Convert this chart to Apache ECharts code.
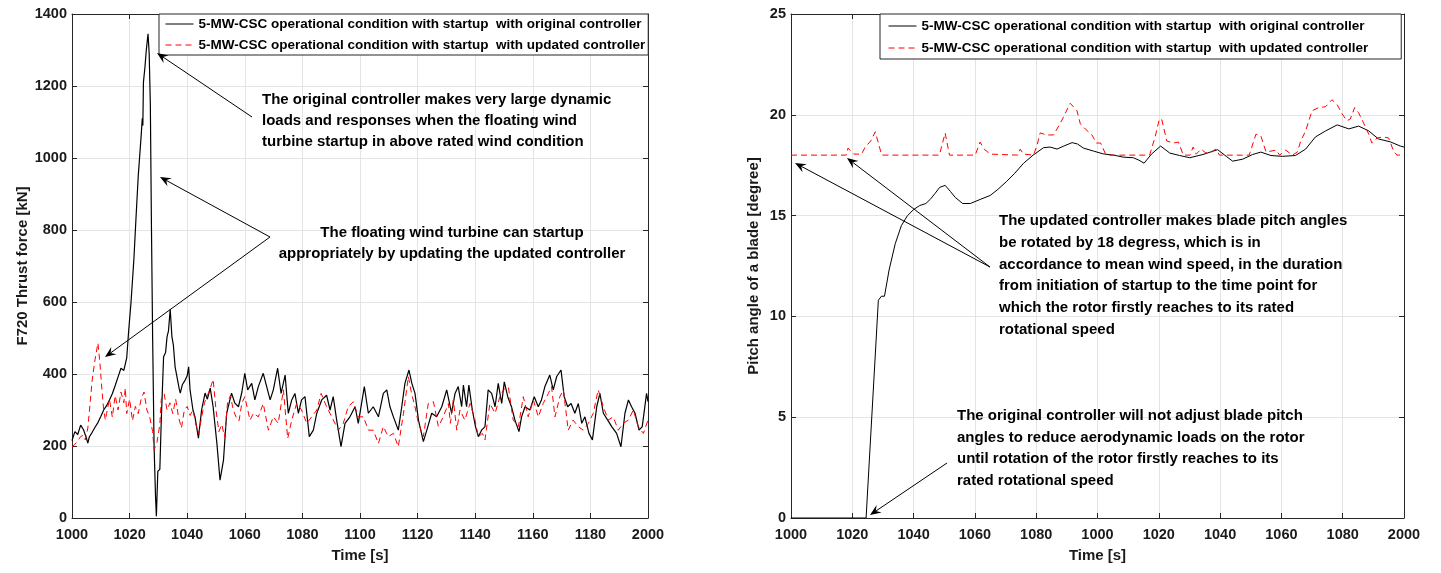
<!DOCTYPE html>
<html><head><meta charset="utf-8">
<script src="https://cdn.jsdelivr.net/npm/echarts@6/dist/echarts.min.js"></script>
<style>html,body{margin:0;padding:0;background:#fff}#c{width:1441px;height:573px}</style>
</head><body><div id="c"></div>
<script>
// ---------- tick labels ----------
const xTickLabelsLeft = ['1000','1020','1040','1060','1080','1100','1120','1140','1160','1180','2000'];
const xTickLabelsRight = ['1000','1020','1040','1060','1080','1000','1020','1040','1060','1080','2000'];
const yTickLabelsLeft = ['0','200','400','600','800','1000','1200','1400'];
const yTickLabelsRight = ['0','5','10','15','20','25'];

// ---------- series names ----------
const nameOriginal = '5-MW-CSC operational condition with startup  with original controller';
const nameUpdated = '5-MW-CSC operational condition with startup  with updated controller';

// ---------- left: F720 thrust force [kN] ----------
const thrustOriginal = [[1000,215],[1001,240],[1002,232],[1003,258],[1004,245],[1005,222],[1005.5,208],[1006,225],[1007,238],[1008,252],[1009,265],[1010,282],[1011,300],[1012,312],[1013,328],[1014,345],[1015,368],[1016,392],[1017,416],[1018,410],[1019,445],[1019.7,522],[1020.5,600],[1021.5,720],[1022.2,830],[1023,950],[1024,1060],[1024.4,1110],[1024.6,1090],[1024.8,1210],[1025.3,1250],[1025.8,1300],[1026.4,1345],[1026.8,1290],[1027.2,1150],[1027.6,800],[1028,500],[1028.5,200],[1029,60],[1029.3,5],[1029.8,130],[1030.5,135],[1031,272],[1031.8,448],[1032.5,460],[1033,503],[1033.5,520],[1034.1,580],[1034.7,503],[1035.2,480],[1035.8,420],[1036.5,390],[1037.2,360],[1037.6,347],[1038.3,370],[1039.3,383],[1040,395],[1040.5,420],[1041,355],[1042,300],[1042.7,281],[1043.9,222],[1045,300],[1046.2,347],[1047,330],[1048,361],[1049,309],[1050.3,208],[1051.4,105],[1052.6,161],[1053.7,291],[1055.4,347],[1056.5,320],[1057.8,309],[1059,350],[1060,402],[1061,356],[1062.4,374],[1063.5,328],[1064.7,365],[1066.4,402],[1067.6,365],[1068.8,328],[1069.9,356],[1071.4,416],[1072.6,346],[1074,397],[1075.1,291],[1076.3,328],[1077.4,346],[1078.6,291],[1079.7,328],[1080.9,337],[1082.4,226],[1083.8,244],[1085,291],[1086.7,328],[1088.4,341],[1089.6,300],[1090.7,337],[1091.9,272],[1093.4,198],[1094.8,263],[1096.5,281],[1098.3,309],[1099.4,263],[1101.5,365],[1102.9,291],[1104.6,309],[1106.4,281],[1108.1,346],[1109.3,356],[1110.4,309],[1111.6,281],[1113.3,244],[1114.5,309],[1115.6,374],[1117,411],[1118,374],[1119.1,346],[1120.3,272],[1122,212],[1123.2,244],[1124.9,291],[1126.6,281],[1128.4,309],[1130.1,356],[1131.8,291],[1133,346],[1134.1,365],[1135.3,309],[1135.9,369],[1137,309],[1137.8,369],[1139,300],[1140.1,254],[1141.1,226],[1142.2,244],[1143.4,254],[1144.5,356],[1145.7,346],[1146.9,309],[1148,374],[1149.2,318],[1150.1,378],[1151.3,337],[1152.6,309],[1153.8,272],[1155.2,240],[1156.1,281],[1157.3,309],[1159,300],[1160.5,337],[1161.9,309],[1163,328],[1164.2,365],[1165.9,397],[1167.1,356],[1168.3,393],[1169.8,411],[1170.9,337],[1172.1,309],[1173.3,318],[1174.6,291],[1175.8,318],[1177,263],[1178.1,281],[1179.5,235],[1180.7,217],[1182.2,309],[1183.3,346],[1184.5,291],[1186,272],[1187.4,254],[1189.1,235],[1190.6,198],[1192,291],[1193.2,328],[1194.3,309],[1195.5,291],[1196.9,244],[1198,254],[1199.5,346],[1200,323]];
const thrustUpdated = [[1000,198],[1001,205],[1002,215],[1003,226],[1004,230],[1004.6,217],[1005.5,250],[1006.3,320],[1007,383],[1008,440],[1009,486],[1009.7,430],[1010.4,355],[1011,300],[1011.6,272],[1012,290],[1013,330],[1014,280],[1015,340],[1016,300],[1017,350],[1018,320],[1018.5,361],[1019,290],[1020,330],[1021,270],[1022,310],[1023,290],[1024,330],[1025,350],[1026,300],[1027,280],[1028,240],[1028.5,190],[1029.5,210],[1030.5,260],[1031,330],[1032,345],[1033,300],[1034,320],[1035,290],[1036,330],[1037,280],[1038,250],[1039,300],[1040,310],[1041,285],[1042,300],[1043,260],[1044,235],[1045,280],[1046,320],[1047,340],[1048,360],[1049,385],[1050,300],[1051,240],[1052,260],[1053,225],[1054,320],[1055,340],[1056,300],[1057,280],[1058,270],[1059,320],[1060,337],[1061.8,272],[1063,291],[1064.7,281],[1066.4,318],[1068.2,244],[1069.9,281],[1071.6,263],[1073.4,356],[1074.9,221],[1076.3,272],[1078,318],[1079.7,300],[1081.5,263],[1083.2,281],[1085,300],[1086.5,346],[1088.4,309],[1090.2,281],[1092.5,244],[1094.2,263],[1095.9,309],[1097.7,323],[1099.4,281],[1101.2,281],[1102.9,244],[1104.6,244],[1106.4,207],[1108.1,254],[1109.8,226],[1111.6,235],[1113.3,198],[1115.1,291],[1116.8,393],[1117.9,346],[1119.1,309],[1120.3,263],[1122,226],[1123.7,318],[1125.5,323],[1127.2,254],[1128.9,281],[1130.7,318],[1131.4,263],[1132.4,328],[1133.6,244],[1134.7,300],[1136.4,272],[1138.2,318],[1139.7,281],[1141.1,226],[1142.5,235],[1143.4,217],[1145.1,318],[1146.9,291],[1148.6,337],[1149.8,356],[1151.5,365],[1153.2,272],[1155,254],[1156.7,337],[1158.4,281],[1160.2,328],[1161.9,281],[1163.6,318],[1165.4,346],[1166.5,365],[1167.7,281],[1169.4,337],[1170.6,356],[1172.3,244],[1174,272],[1175.8,254],[1177.5,244],[1179.3,263],[1181,291],[1182.7,356],[1184.5,309],[1186.2,272],[1187.9,281],[1189.7,244],[1191.4,263],[1193.2,272],[1194.9,300],[1196.6,254],[1198.4,235],[1200,272]];

// ---------- right: pitch angle of a blade [degree] ----------
const pitchOriginal = [[1000,0],[1024.5,0],[1028.5,10.8],[1029.5,11.0],[1030.5,11.0],[1032,12.3],[1034,13.6],[1036,14.5],[1038,15.0],[1040,15.3],[1042,15.5],[1044,15.6],[1045.4,15.8],[1047,16.1],[1048.5,16.4],[1050.3,16.5],[1052,16.2],[1053.6,15.9],[1056,15.6],[1058.5,15.6],[1061.7,15.8],[1065,16.0],[1067.5,16.3],[1070.4,16.7],[1073,17.1],[1075.9,17.6],[1079,18.0],[1082.4,18.37],[1084.5,18.4],[1086.8,18.3],[1089,18.45],[1091.7,18.62],[1093.5,18.55],[1095.4,18.35],[1098.7,18.2],[1101.9,18.06],[1105.2,18.0],[1108.4,17.9],[1111.7,17.87],[1113.5,17.75],[1115.2,17.6],[1117.6,18.05],[1120.6,18.45],[1123.6,18.1],[1126.8,17.98],[1130.1,17.87],[1134.4,18.03],[1139.2,18.27],[1142,17.94],[1144.1,17.7],[1147.4,17.8],[1150.6,18.03],[1153.3,18.15],[1156.6,17.98],[1160.3,17.94],[1164.6,17.98],[1167.9,18.3],[1171.1,18.9],[1174.4,19.2],[1178.2,19.5],[1182,19.3],[1185.2,19.44],[1188.5,19.2],[1191.7,18.8],[1195.5,18.66],[1198.8,18.45],[1200,18.4]];
const pitchUpdated = [[1000,18],[1018,18],[1018.6,18.35],[1019.5,18.2],[1020.5,18.05],[1023,18.05],[1024.2,18.4],[1026,18.7],[1027.5,19.16],[1028.5,18.6],[1029.6,18],[1048.4,18],[1050.3,19.1],[1051.7,18],[1060.1,18],[1061.7,18.65],[1063,18.3],[1065,18.05],[1074,18],[1074.8,18.3],[1075.8,18.05],[1079.1,18],[1080.3,18.5],[1081.3,19.1],[1083.5,19.0],[1085.7,19.0],[1088.4,19.74],[1091.1,20.57],[1093.3,20.2],[1094.4,19.55],[1096,19.3],[1098.2,19.0],[1099.6,18.6],[1101,18.6],[1102.5,18.1],[1103.5,18],[1117,18],[1118.8,18.9],[1120.2,19.8],[1121,19.75],[1122.6,18.7],[1124.8,18.6],[1126.4,18.65],[1128,18.0],[1130.2,18.0],[1131.2,18.4],[1132.2,18.05],[1133.8,18.3],[1135.4,18.1],[1137,18.15],[1138.7,18.3],[1139.8,18.0],[1149.5,18.0],[1151.7,19.04],[1153.3,18.95],[1155,18.15],[1156.6,18.2],[1158.3,18.25],[1159.4,18.0],[1161.4,18.25],[1163.6,18.0],[1165.2,18.15],[1166.3,18.7],[1167.9,19.2],[1170,20.2],[1172.2,20.36],[1174.4,20.4],[1176.5,20.75],[1178.2,20.5],[1179.8,20.05],[1181.4,19.7],[1182.5,19.8],[1183.9,20.36],[1185.2,20.1],[1186.8,19.6],[1188.5,19.04],[1189.5,18.6],[1191.2,18.85],[1193.3,18.9],[1195,18.85],[1196.6,18.2],[1197.7,18.0],[1200,18.0]];

// ---------- annotation texts ----------
const noteLeft1 = ['The original controller makes very large dynamic','loads and responses when the floating wind','turbine startup in above rated wind condition'];
const noteLeft2 = ['The floating wind turbine can startup','appropriately by updating the updated controller'];
const noteRight1 = ['The updated controller makes blade pitch angles','be rotated by 18 degress, which is in','accordance to mean wind speed, in the duration','from initiation of startup to the time point for','which the rotor firstly reaches to its rated','rotational speed'];
const noteRight2 = ['The original controller will not adjust blade pitch','angles to reduce aerodynamic loads on the rotor','until rotation of the rotor firstly reaches to its','rated rotational speed'];

const FONT = '"Liberation Sans", Arial, Helvetica, sans-serif';
const AX = '#262626';
const GRIDC = '#e4e4e4';

function bottomX(gi, labels) {
  return {
    type: 'value', gridIndex: gi, position: 'bottom', min: 1000, max: 1200, interval: 20,
    axisLine: { show: true, onZero: false, lineStyle: { color: AX, width: 1 } },
    axisTick: { show: true, inside: true, length: 5, lineStyle: { color: AX } },
    axisLabel: { formatter: v => labels[Math.round((v - 1000) / 20)], fontFamily: FONT, fontWeight: 'bold',
      fontSize: 14.5, color: '#1a1a1a', margin: 9, showMinLabel: true, showMaxLabel: true },
    splitLine: { show: true, lineStyle: { color: GRIDC, width: 1 } },
    name: 'Time [s]', nameLocation: 'middle', nameGap: 30,
    nameTextStyle: { fontFamily: FONT, fontWeight: 'bold', fontSize: 15, color: '#1a1a1a' }
  };
}
function topX(gi) {
  return {
    type: 'value', gridIndex: gi, position: 'top', min: 1000, max: 1200, interval: 20,
    axisLine: { show: true, onZero: false, lineStyle: { color: AX, width: 1 } },
    axisTick: { show: true, inside: true, length: 5, lineStyle: { color: AX } },
    axisLabel: { show: false }, splitLine: { show: false }
  };
}
function leftY(gi, max, step, labels, name, gap) {
  return {
    type: 'value', gridIndex: gi, position: 'left', min: 0, max: max, interval: step,
    axisLine: { show: true, onZero: false, lineStyle: { color: AX, width: 1 } },
    axisTick: { show: true, inside: true, length: 5, lineStyle: { color: AX } },
    axisLabel: { formatter: v => labels[Math.round(v / step)], fontFamily: FONT, fontWeight: 'bold',
      fontSize: 14.5, color: '#1a1a1a', margin: 5, showMinLabel: true, showMaxLabel: true },
    splitLine: { show: true, lineStyle: { color: GRIDC, width: 1 } },
    name: name, nameLocation: 'middle', nameGap: gap,
    nameTextStyle: { fontFamily: FONT, fontWeight: 'bold', fontSize: 15, color: '#1a1a1a' }
  };
}
function rightY(gi, max, step) {
  return {
    type: 'value', gridIndex: gi, position: 'right', min: 0, max: max, interval: step,
    axisLine: { show: true, onZero: false, lineStyle: { color: AX, width: 1 } },
    axisTick: { show: true, inside: true, length: 5, lineStyle: { color: AX } },
    axisLabel: { show: false }, splitLine: { show: false }
  };
}

function arrow(x1, y1, x2, y2) {
  const a = Math.atan2(y2 - y1, x2 - x1);
  const L = 11, W = 4.5, back = 7;
  const p = (d, w) => [x2 - d * Math.cos(a) - w * Math.sin(a), y2 - d * Math.sin(a) + w * Math.cos(a)];
  const b = p(back, 0);
  return [
    { type: 'line', shape: { x1: x1, y1: y1, x2: b[0], y2: b[1] }, style: { stroke: '#000', lineWidth: 1 }, z: 100 },
    { type: 'polygon', shape: { points: [[x2, y2], p(L, W), b, p(L, -W)] }, style: { fill: '#000' }, z: 100 }
  ];
}
function note(lines, x, y, lh, align) {
  return { type: 'text', x: x, y: y, z: 100,
    style: { text: lines.join('\n'), font: 'bold 15px ' + FONT, fill: '#000', lineHeight: lh,
      align: align || 'left', verticalAlign: 'top' } };
}

const legendBase = {
  data: [nameOriginal, nameUpdated], orient: 'vertical', itemWidth: 28, itemHeight: 14,
  backgroundColor: '#fff', borderColor: AX, borderWidth: 1, borderRadius: 0,
  textStyle: { fontFamily: FONT, fontWeight: 'bold', fontSize: 13.5, color: '#000' },
  itemStyle: { opacity: 0, borderWidth: 0 },
  lineStyle: { width: 1 },
  selectedMode: false
};

const chart = echarts.init(document.getElementById('c'), null, { renderer: 'canvas' });
chart.setOption({
  animation: false,
  backgroundColor: '#fff',
  grid: [
    { left: 72, top: 14, width: 576, height: 504, containLabel: false },
    { left: 791, top: 14, width: 613, height: 504, containLabel: false }
  ],
  xAxis: [bottomX(0, xTickLabelsLeft), topX(0), bottomX(1, xTickLabelsRight), topX(1)],
  yAxis: [
    leftY(0, 1400, 200, yTickLabelsLeft, 'F720 Thrust force [kN]', 40), rightY(0, 1400, 200),
    leftY(1, 25, 5, yTickLabelsRight, 'Pitch angle of a blade [degree]', 30), rightY(1, 25, 5)
  ],
  legend: [
    Object.assign({}, legendBase, { left: 159, top: 14, padding: [3, 3, 3, 6], itemGap: 7 }),
    Object.assign({}, legendBase, { left: 880, top: 14, padding: [5, 33, 4, 8], itemGap: 8 })
  ],
  series: [
    { name: nameOriginal, type: 'line', xAxisIndex: 0, yAxisIndex: 0, data: thrustOriginal, showSymbol: false, symbol: 'none',
      lineStyle: { color: '#000', width: 1.2 }, itemStyle: { color: '#000' }, z: 2 },
    { name: nameUpdated, type: 'line', xAxisIndex: 0, yAxisIndex: 0, data: thrustUpdated, showSymbol: false, symbol: 'none',
      lineStyle: { color: '#ff0000', width: 1, type: [6, 4] }, itemStyle: { color: '#ff0000' }, z: 3 },
    { name: nameOriginal, type: 'line', xAxisIndex: 2, yAxisIndex: 2, data: pitchOriginal, showSymbol: false, symbol: 'none',
      lineStyle: { color: '#000', width: 1 }, itemStyle: { color: '#000' }, z: 2 },
    { name: nameUpdated, type: 'line', xAxisIndex: 2, yAxisIndex: 2, data: pitchUpdated, showSymbol: false, symbol: 'none',
      lineStyle: { color: '#ff0000', width: 1, type: [6, 4] }, itemStyle: { color: '#ff0000' }, z: 3 }
  ],
  graphic: [].concat(
    note(noteLeft1, 262, 89.5, 21),
    note(noteLeft2, 452, 222.5, 21, 'center'),
    note(noteRight1, 999, 210, 21.8),
    note(noteRight2, 957, 405, 21.7),
    arrow(252, 117, 157, 53),
    arrow(270, 237, 160, 177),
    arrow(270, 237, 105, 357),
    arrow(990, 267, 795, 163),
    arrow(990, 267, 847, 158),
    arrow(947, 463, 870, 515)
  )
});
</script>
</body></html>
